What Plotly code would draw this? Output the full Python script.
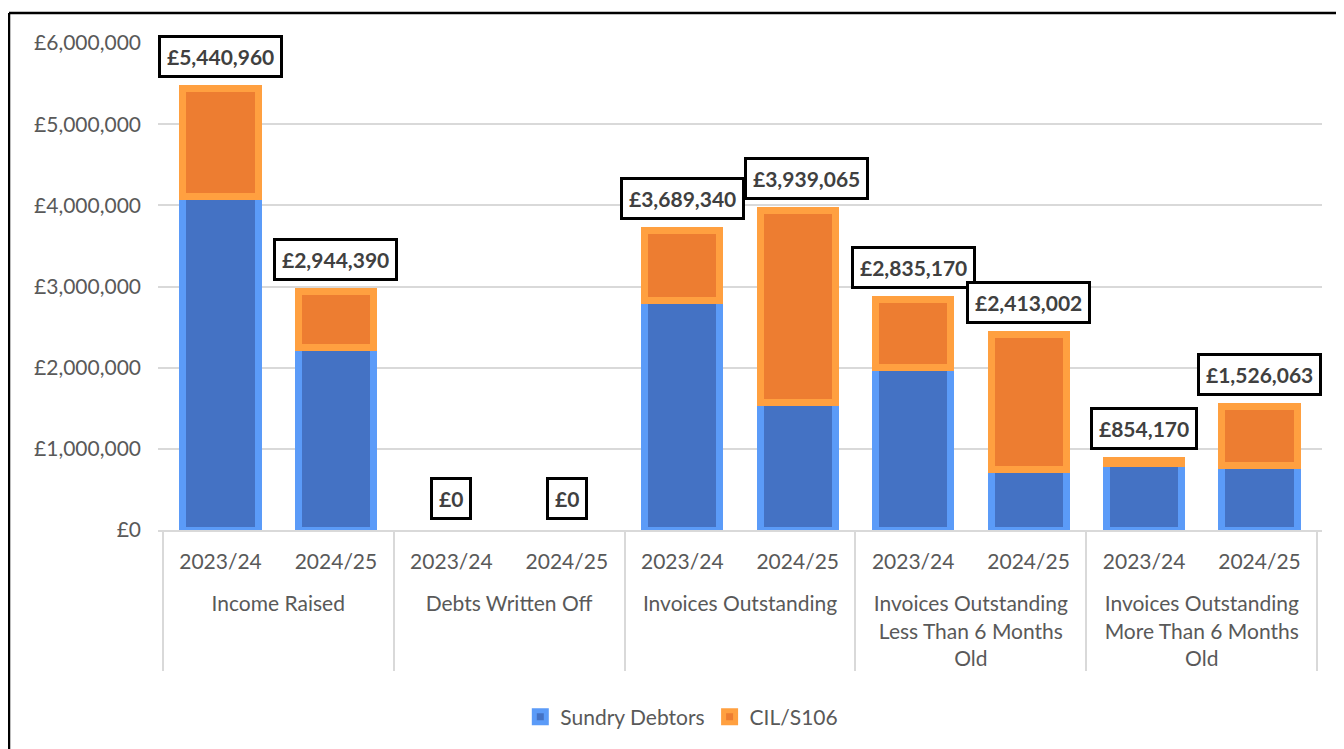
import plotly.graph_objects as go

# categories
groups = ["Income Raised", "Debts Written Off", "Invoices Outstanding",
          "Invoices Outstanding<br>Less Than 6 Months<br>Old",
          "Invoices Outstanding<br>More Than 6 Months<br>Old"]
years = ["2023/24", "2024/25"]

# series values
sundry = [4111000, 2250000, 0, 0, 2830000, 1565000, 2000000, 750000, 820000, 795000]
cil = [1329960, 694390, 0, 0, 859340, 2374065, 835170, 1663002, 34170, 731063]
totals = [5440960, 2944390, 0, 0, 3689340, 3939065, 2835170, 2413002, 854170, 1526063]

# leading blank line pushes the group row further below the years
x_grp = ["<br>" + g for g in groups for _ in years]
x_yr = [y for _ in groups for y in years]

fig = go.Figure()
fig.add_trace(go.Bar(x=[x_grp, x_yr], y=[v or None for v in sundry], name="Sundry Debtors",
                     marker=dict(color="#4472C4", line=dict(color="#5B9BF8", width=7))))
fig.add_trace(go.Bar(x=[x_grp, x_yr], y=[v or None for v in cil], name="CIL/S106",
                     marker=dict(color="#ED7D31", line=dict(color="#FFA040", width=7))))

# boxed totals above each stack (the 2024/25 invoices box sits a bit to the right)
for i, t in enumerate(totals):
    fig.add_annotation(x=i, y=t, text="<b>£{:,}</b>".format(t), showarrow=False,
                       yshift=32, yanchor="middle", xshift=9 if i == 5 else 0,
                       font=dict(family="Lato", size=21, color="#404040"),
                       bgcolor="white", bordercolor="black", borderwidth=3, borderpad=6)

# outer chart border, only its top and left edges are in view
fig.add_shape(type="line", xref="paper", yref="paper",
              x0=-0.128, x1=1.2, y0=1.0616, y1=1.0616,
              line=dict(color="black", width=2.5), layer="above")
fig.add_shape(type="line", xref="paper", yref="paper",
              x0=-0.128, x1=-0.128, y0=-0.7, y1=1.0616,
              line=dict(color="black", width=2.5), layer="above")

# page body has an 8px margin, so the figure is drawn 8px smaller and offset
fig.update_layout(
    barmode="stack", bargap=0.35,
    width=1336, height=741,
    margin=dict(l=150, r=22, t=35, b=219),
    plot_bgcolor="white", paper_bgcolor="white",
    font=dict(family="Lato", size=21, color="#595959"),
    legend=dict(orientation="h", x=0.45, xanchor="center", y=-0.384, yanchor="middle",
                font=dict(size=21, color="#595959"), traceorder="normal"),
    showlegend=True,
)
fig.update_yaxes(range=[0, 6000000], dtick=1000000, tickprefix="£", tickformat=",",
                 gridcolor="#D9D9D9", gridwidth=1.5, zeroline=False,
                 showline=False, ticks="", ticklabelstandoff=16, automargin=False,
                 tickfont=dict(size=21, color="#595959"))
fig.update_xaxes(type="multicategory", showline=True, linecolor="#D9D9D9", linewidth=1.5,
                 showdividers=True, dividercolor="#D9D9D9", dividerwidth=1.5,
                 ticklabelstandoff=12, automargin=False,
                 tickfont=dict(size=21, color="#595959"), ticks="")

fig.write_html("out.html")
